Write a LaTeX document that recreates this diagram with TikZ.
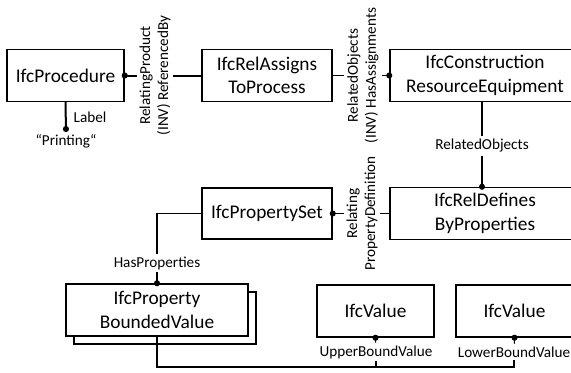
\documentclass[tikz,border=0pt]{standalone}
\usepackage{fontspec}
\setmainfont{Carlito}
\usetikzlibrary{positioning}
\usetikzlibrary{arrows.meta}
\usetikzlibrary{shadows}

\begin{document}
\begin{tikzpicture}[x=0.75pt, y=-0.75pt,
    box/.style={draw, line width=1.1pt, fill=white, align=center, minimum height=39pt, font=\fontsize{14.5}{17.5}\selectfont},
    role/.style={inner sep=2pt, align=center, font=\fontsize{11.4}{13.5}\selectfont},
    link/.style={line width=0.8pt},
    strong/.style={line width=1.5pt},
    dotstart/.style={{Circle[length=4.5pt]}-, shorten <=-2.25pt},
    dotstop/.style={-{Circle[length=4.5pt]}, shorten >=-2.25pt}]
            \useasboundingbox (0,0) rectangle (571,372);
            \clip (0,0) rectangle (571,372);

            % Cajas
            \node[box, minimum width=87.75pt] (proc) at (65.5,75.5) {IfcProcedure};
            \node[box, minimum width=97.5pt] (assign) at (267,75.5) {IfcRelAssigns\\ToProcess};
            \node[box, minimum width=142.5pt] (constr) at (485,75.5) {IfcConstruction\\ResourceEquipment};
            \node[box, minimum width=97.5pt, minimum height=38.25pt] (pset) at (267,213.5) {IfcPropertySet};
            \node[box, minimum width=142.5pt] (defines) at (485,213.5) {IfcRelDefines\\ByProperties};
            \node[box, minimum width=136.5pt, copy shadow={shadow xshift=6pt, shadow yshift=-6pt}] (bounded) at (157,310) {IfcProperty\\BoundedValue};
            \node[box, minimum width=87.75pt] (upper) at (375.5,311) {IfcValue};
            \node[box, minimum width=87.75pt] (lower) at (514.5,311) {IfcValue};

            % Etiquetas
            \node[role, rotate=90] (prodrel) at (155,75.5) {RelatingProduct\\(INV) ReferencedBy};
            \node[role, rotate=90] (objrel) at (363,75.5) {RelatedObjects\\(INV) HasAssignments};
            \node[role, rotate=90] (defrel) at (362,213.5) {Relating\\PropertyDefinition};
            \node[role] (relobj) at (482,146) {RelatedObjects};
            \node[role] (hasprop) at (157,263) {HasProperties};
            \node[role] (lbl) at (90,117) {Label};
            \node[role, anchor=north] (printing) at (66,132) {“Printing“};
            \node[role] (ubv) at (376,352) {UpperBoundValue};
            \node[role] (lbv) at (514,352) {LowerBoundValue};

            % Conexiones
            \draw[strong, dotstart] (proc.east) -- (prodrel);
            \draw[strong] (prodrel) -- (assign.west);
            \draw[strong, -{Circle[length=4.5pt]}] (proc.south) -- (printing.north);
            \draw[link] (assign.east) -- (objrel);
            \draw[link, dotstop] (objrel) -- (constr.west);
            \draw[link] (constr.south -| relobj) -- (relobj);
            \draw[link, dotstop] (relobj) -- (defines.north -| relobj);
            \draw[link] (defines.west) -- (defrel);
            \draw[link, dotstop] (defrel) -- (pset.east);
            \draw[link] (pset.west) -| (hasprop);
            \draw[link, dotstop] (hasprop) -- (bounded.north);
            \draw[link] (bounded.south) -- (bounded.south |- 0,367) -| (lbv);
            \draw[link] (ubv) -- (ubv |- 0,367);
            \draw[link, dotstart] (upper.south) -- (ubv);
            \draw[link, dotstart] (lower.south) -- (lbv);
          \end{tikzpicture}
\end{document}
